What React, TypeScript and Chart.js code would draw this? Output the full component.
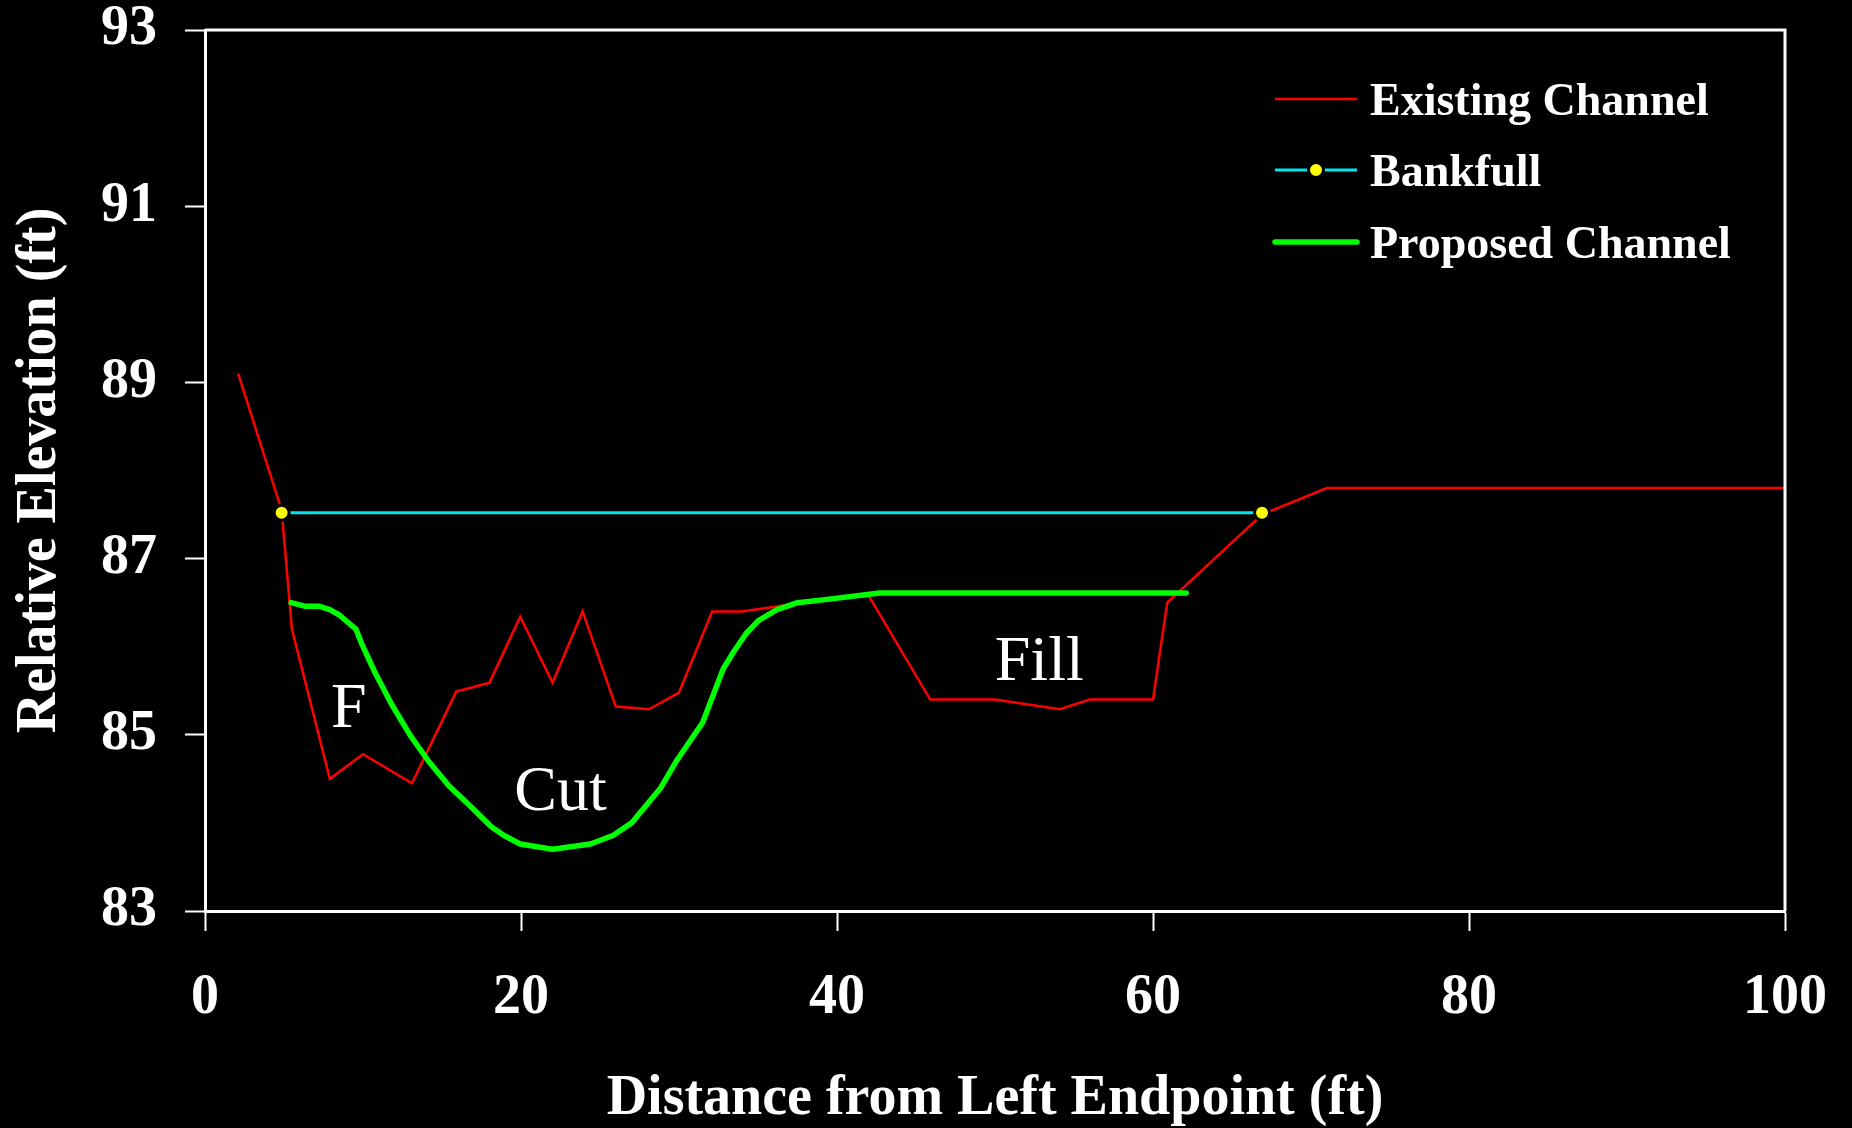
import React, { useEffect, useRef } from "react";
import { Chart, registerables } from "chart.js";

Chart.register(...registerables);

// ---- Data ----
const existingX = [2.1, 4.85, 5.5, 7.9, 10.0, 13.1, 15.9, 18.0, 19.95, 22.0, 23.9, 26.0, 28.1, 30.0, 32.1, 34.0, 36.7, 42.0, 45.9, 50.0, 54.1, 56.0, 60.0, 60.9, 66.9, 71.0, 100];
const existingY = [89.1, 87.55, 86.2, 84.5, 84.78, 84.45, 85.49, 85.59, 86.34, 85.59, 86.4, 85.32, 85.29, 85.48, 86.4, 86.4, 86.47, 86.58, 85.4, 85.4, 85.29, 85.4, 85.4, 86.5, 87.5, 87.8, 87.8];

const bankfullX = [4.85, 66.9];
const bankfullY = [87.52, 87.52];

const proposedX = [5.45, 6.3, 7.2, 7.9, 8.5, 9.55, 9.95, 10.75, 11.8, 13.0, 14.15, 15.45, 16.8, 18.1, 18.9, 19.95, 22.0, 24.4, 25.85, 27.0, 28.85, 29.9, 31.5, 32.8, 33.45, 34.25, 35.05, 36.2, 37.5, 39.5, 42.7, 62.1];
const proposedY = [86.5, 86.46, 86.46, 86.42, 86.36, 86.2, 86.02, 85.71, 85.35, 84.99, 84.7, 84.42, 84.19, 83.96, 83.86, 83.76, 83.7, 83.76, 83.86, 84.0, 84.4, 84.72, 85.14, 85.75, 85.94, 86.15, 86.3, 86.42, 86.5, 86.54, 86.61, 86.61];

const seriesLabels = ["Existing Channel", "Bankfull", "Proposed Channel"];

const annotationLabels = ["F", "Cut", "Fill"];
const annotationX = [9.1, 22.5, 52.8];
const annotationY = [85.09, 84.15, 85.62];

const xTitle = "Distance from Left Endpoint (ft)";
const yTitle = "Relative Elevation (ft)";

const FONT = "'Liberation Serif', 'Times New Roman', serif";

const toPoints = (xs: number[], ys: number[]) => xs.map((x, i) => ({ x, y: ys[i] }));

const overlayPlugin = {
  id: "overlay",
  afterDraw(chart: any) {
    const ctx = chart.ctx as CanvasRenderingContext2D;
    const { left, top, right, bottom } = chart.chartArea;
    const xs = chart.scales.x;
    const ys = chart.scales.y;
    ctx.save();
    // frame top & right
    ctx.strokeStyle = "#ffffff";
    ctx.lineWidth = 3;
    ctx.beginPath();
    ctx.moveTo(left, top);
    ctx.lineTo(right, top);
    ctx.lineTo(right, bottom);
    ctx.stroke();

    // annotations
    ctx.fillStyle = "#ffffff";
    ctx.font = `64px ${FONT}`;
    ctx.textAlign = "center";
    ctx.textBaseline = "alphabetic";
    annotationLabels.forEach((t, i) => {
      ctx.fillText(t, xs.getPixelForValue(annotationX[i]), ys.getPixelForValue(annotationY[i]));
    });

    // legend
    const lx0 = 1275;
    const lx1 = 1357;
    const rowY = [99, 170, 242];
    const ds = chart.data.datasets;
    ctx.font = `bold 46px ${FONT}`;
    ctx.textAlign = "left";
    ds.forEach((d: any, i: number) => {
      const y = rowY[i];
      ctx.strokeStyle = d.borderColor;
      ctx.lineWidth = d.borderWidth;
      ctx.lineCap = i === 2 ? "round" : "butt";
      ctx.beginPath();
      ctx.moveTo(lx0, y);
      ctx.lineTo(lx1, y);
      ctx.stroke();
      if (d.pointRadius > 0) {
        const cx = (lx0 + lx1) / 2;
        ctx.beginPath();
        ctx.arc(cx, y, d.pointRadius, 0, Math.PI * 2);
        ctx.fillStyle = d.pointBackgroundColor;
        ctx.fill();
        ctx.lineWidth = d.pointBorderWidth;
        ctx.strokeStyle = d.pointBorderColor;
        ctx.stroke();
      }
      ctx.fillStyle = "#ffffff";
      ctx.fillText(d.label, 1370, y + 16);
    });
    ctx.restore();
  },
};

export default function App() {
  const canvasRef = useRef<HTMLCanvasElement | null>(null);

  useEffect(() => {
    document.body.style.margin = "0";
    document.body.style.background = "#000";
    const canvas = canvasRef.current;
    if (!canvas) return;
    const chart = new Chart(canvas, {
      type: "line",
      data: {
        datasets: [
          {
            label: seriesLabels[0],
            data: toPoints(existingX, existingY),
            borderColor: "#ff0000",
            borderWidth: 2.5,
            pointRadius: 0,
            tension: 0,
            order: 3,
          },
          {
            label: seriesLabels[1],
            data: toPoints(bankfullX, bankfullY),
            borderColor: "#00e5f0",
            borderWidth: 3,
            pointRadius: 7.5,
            pointBackgroundColor: "#ffff00",
            pointBorderColor: "#000000",
            pointBorderWidth: 3,
            tension: 0,
            order: 1,
          },
          {
            label: seriesLabels[2],
            data: toPoints(proposedX, proposedY),
            borderColor: "#00ff00",
            borderWidth: 5.5,
            borderCapStyle: "round",
            borderJoinStyle: "round",
            pointRadius: 0,
            tension: 0,
            order: 2,
          },
        ] as any,
      },
      options: {
        responsive: false,
        animation: false,
        devicePixelRatio: 1,
        layout: { padding: { top: 30, right: 67, bottom: 0, left: 0 } },
        plugins: {
          legend: { display: false },
          tooltip: { enabled: false },
        },
        scales: {
          x: {
            type: "linear",
            min: 0,
            max: 100,
            ticks: {
              stepSize: 20,
              color: "#ffffff",
              font: { family: FONT, size: 56, weight: "bold", lineHeight: 1 },
              padding: 40,
              maxRotation: 0,
            },
            grid: {
              display: true,
              drawOnChartArea: false,
              drawTicks: true,
              tickLength: 20,
              tickColor: "#ffffff",
              tickWidth: 2,
              color: "#ffffff",
            },
            border: { display: true, color: "#ffffff", width: 3 },
            title: {
              display: true,
              text: xTitle,
              color: "#ffffff",
              font: { family: FONT, size: 56, weight: "bold", lineHeight: 1 },
              padding: { top: 0, bottom: 0 },
            },
            afterFit: (scale: any) => {
              scale.height = 217;
              scale.paddingLeft = 0;
              scale.paddingRight = 0;
            },
          },
          y: {
            type: "linear",
            min: 83,
            max: 93,
            ticks: {
              stepSize: 2,
              color: "#ffffff",
              font: { family: FONT, size: 56, weight: "bold", lineHeight: 1 },
              padding: 28,
            },
            grid: {
              display: true,
              drawOnChartArea: false,
              drawTicks: true,
              tickLength: 20,
              tickColor: "#ffffff",
              tickWidth: 2,
              color: "#ffffff",
            },
            border: { display: true, color: "#ffffff", width: 3 },
            title: {
              display: true,
              text: yTitle,
              color: "#ffffff",
              font: { family: FONT, size: 56, weight: "bold", lineHeight: 1 },
              padding: { top: 13, bottom: 0 },
            },
            afterFit: (scale: any) => {
              scale.width = 205;
              scale.paddingTop = 0;
              scale.paddingBottom = 0;
            },
          },
        },
      } as any,
      plugins: [overlayPlugin],
    });
    return () => chart.destroy();
  }, []);

  return (
    <div style={{ width: 1852, height: 1128, background: "#000" }}>
      <canvas ref={canvasRef} width={1852} height={1128} style={{ display: "block" }} />
    </div>
  );
}
